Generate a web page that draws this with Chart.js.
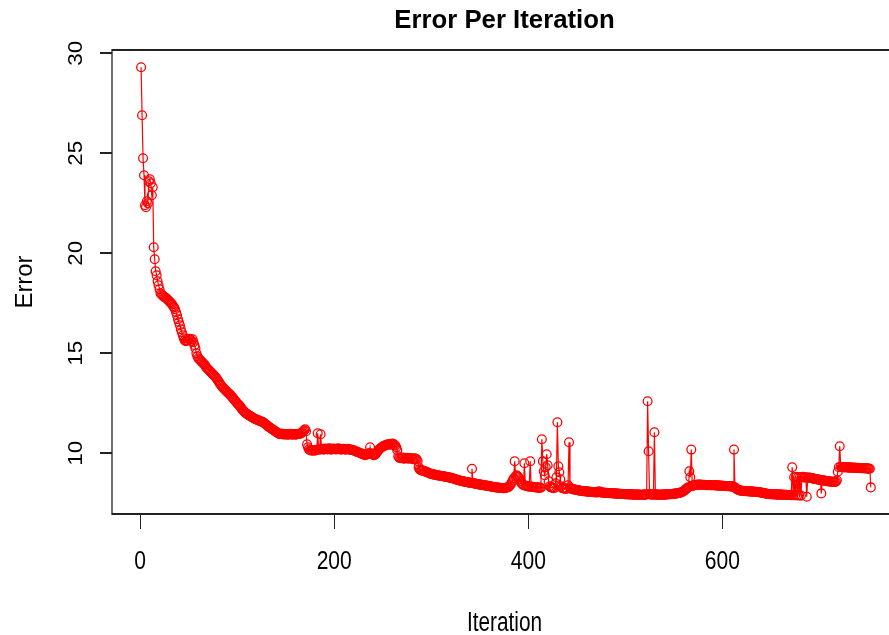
<!DOCTYPE html>
<html>
<head>
<meta charset="utf-8">
<script src="https://cdn.jsdelivr.net/npm/chart.js@4.4.1/dist/chart.umd.min.js"></script>
<style>
  html, body { margin: 0; padding: 0; background: #fff; overflow: hidden; }
  #wrap { width: 889px; height: 635px; overflow: hidden; }
  canvas { display: block; }
</style>
</head>
<body>
<div id="wrap"><canvas id="c" width="910" height="635"></canvas></div>
<script>
const titleText = "Error Per Iteration";
const xTitle = "Iteration";
const yTitle = "Error";
const xTicks = [0, 200, 400, 600];
const yTicks = [10, 15, 20, 25, 30];

// error value for each iteration (1, 2, 3, ...)
const errors = [
  /*1*/   29.3, 26.9, 24.75, 23.9, 22.4, 22.3, 22.6, 22.5, 23.6, 23.7,
  /*11*/  23.5, 22.9, 23.3, 20.3, 19.7, 19.1, 18.9, 18.6, 18.4, 18.2,
  /*21*/  18.0, 17.95, 17.9, 17.85, 17.8, 17.78, 17.75, 17.7, 17.65, 17.6,
  /*31*/  17.55, 17.5, 17.45, 17.35, 17.3, 17.2, 17.05, 16.9, 16.7, 16.55,
  /*41*/  16.4, 16.2, 16.05, 15.9, 15.75, 15.65, 15.6, 15.62, 15.65, 15.7,
  /*51*/  15.72, 15.68, 15.6, 15.7, 15.55, 15.4, 15.25, 15.0, 14.85, 14.75,
  /*61*/  14.7, 14.65, 14.6, 14.55, 14.5, 14.45, 14.4, 14.3, 14.25, 14.2,
  /*71*/  14.15, 14.1, 14.05, 14.0, 13.95, 13.9, 13.85, 13.8, 13.72, 13.65,
  /*81*/  13.58, 13.5, 13.42, 13.36, 13.3, 13.25, 13.2, 13.15, 13.1, 13.05,
  /*91*/  13.0, 12.97, 12.92, 12.85, 12.8, 12.74, 12.68, 12.62, 12.56, 12.5,
  /*101*/ 12.45, 12.4, 12.34, 12.28, 12.2, 12.14, 12.1, 12.05, 12.0, 11.97,
  /*111*/ 11.93, 11.9, 11.87, 11.84, 11.81, 11.78, 11.75, 11.72, 11.7, 11.68,
  /*121*/ 11.66, 11.64, 11.62, 11.6, 11.58, 11.56, 11.54, 11.5, 11.46, 11.42,
  /*131*/ 11.38, 11.34, 11.3, 11.27, 11.24, 11.2, 11.17, 11.14, 11.1, 11.07,
  /*141*/ 11.04, 11.0, 10.97, 10.95, 10.98, 10.96, 10.94, 10.97, 10.95, 10.93,
  /*151*/ 10.96, 10.94, 10.92, 10.95, 10.97, 10.94, 10.93, 10.95, 10.96, 10.92,
  /*161*/ 10.94, 10.95, 10.97, 10.96, 10.98, 11.0, 11.05, 11.1, 11.15, 11.2,
  /*171*/ 11.1, 10.45, 10.3, 10.2, 10.15, 10.15, 10.12, 10.14, 10.16, 10.13,
  /*181*/ 10.15, 10.17, 11.0, 10.2, 10.18, 10.95, 10.2, 10.22, 10.18, 10.2,
  /*191*/ 10.23, 10.21, 10.19, 10.22, 10.24, 10.2, 10.18, 10.21, 10.23, 10.22,
  /*201*/ 10.2, 10.19, 10.21, 10.24, 10.22, 10.2, 10.18, 10.2, 10.22, 10.21,
  /*211*/ 10.19, 10.17, 10.2, 10.22, 10.2, 10.18, 10.16, 10.18, 10.15, 10.14,
  /*221*/ 10.12, 10.1, 10.08, 10.06, 10.05, 10.02, 10.0, 9.98, 9.96, 9.94,
  /*231*/ 9.92, 9.9, 9.92, 9.95, 9.98, 10.0, 10.3, 10.0, 9.95, 9.92,
  /*241*/ 9.9, 9.93, 9.98, 10.05, 10.12, 10.18, 10.22, 10.26, 10.3, 10.33,
  /*251*/ 10.36, 10.38, 10.4, 10.42, 10.43, 10.45, 10.44, 10.42, 10.45, 10.48,
  /*261*/ 10.46, 10.42, 10.38, 10.3, 10.15, 9.85, 9.78, 9.75, 9.76, 9.78,
  /*271*/ 9.74, 9.72, 9.75, 9.77, 9.76, 9.73, 9.74, 9.76, 9.75, 9.72,
  /*281*/ 9.7, 9.73, 9.75, 9.72, 9.7, 9.6, 9.3, 9.2, 9.15, 9.14,
  /*291*/ 9.13, 9.12, 9.1, 9.08, 9.06, 9.04, 9.02, 9.0, 8.98, 8.96,
  /*301*/ 8.95, 8.94, 8.93, 8.92, 8.91, 8.9, 8.89, 8.88, 8.87, 8.86,
  /*311*/ 8.86, 8.85, 8.84, 8.83, 8.82, 8.81, 8.8, 8.79, 8.78, 8.77,
  /*321*/ 8.76, 8.75, 8.73, 8.71, 8.7, 8.68, 8.67, 8.65, 8.64, 8.62,
  /*331*/ 8.61, 8.6, 8.59, 8.58, 8.57, 8.56, 8.55, 8.54, 8.53, 8.52,
  /*341*/ 8.51, 9.22, 8.5, 8.49, 8.48, 8.47, 8.46, 8.45, 8.44, 8.43,
  /*351*/ 8.43, 8.42, 8.41, 8.4, 8.39, 8.38, 8.38, 8.37, 8.36, 8.35,
  /*361*/ 8.34, 8.33, 8.32, 8.31, 8.3, 8.3, 8.29, 8.28, 8.28, 8.27,
  /*371*/ 8.27, 8.26, 8.26, 8.25, 8.25, 8.26, 8.27, 8.28, 8.3, 8.33,
  /*381*/ 8.38, 8.45, 8.55, 8.65, 8.75, 9.6, 8.85, 8.9, 8.85, 8.8,
  /*391*/ 8.7, 8.6, 8.5, 8.45, 8.4, 9.5, 8.38, 8.36, 8.35, 8.34,
  /*401*/ 8.33, 9.6, 8.33, 8.32, 8.31, 8.3, 8.3, 8.29, 8.29, 8.28,
  /*411*/ 8.28, 8.27, 8.27, 10.7, 9.6, 9.1, 8.9, 9.3, 9.95, 9.4,
  /*421*/ 8.6, 8.35, 8.3, 8.28, 8.27, 8.27, 8.26, 8.5, 8.8, 11.55,
  /*431*/ 9.35, 9.05, 8.7, 8.35, 8.25, 8.24, 8.24, 8.23, 8.23, 8.22,
  /*441*/ 8.4, 10.55, 8.3, 8.22, 8.21, 8.2, 8.19, 8.18, 8.17, 8.16,
  /*451*/ 8.15, 8.14, 8.13, 8.12, 8.11, 8.11, 8.1, 8.1, 8.09, 8.09,
  /*461*/ 8.08, 8.08, 8.07, 8.07, 8.06, 8.06, 8.05, 8.05, 8.05, 8.04,
  /*471*/ 8.04, 8.06, 8.1, 8.06, 8.04, 8.03, 8.03, 8.02, 8.02, 8.02,
  /*481*/ 8.01, 8.01, 8.01, 8.0, 8.0, 8.0, 7.99, 7.99, 7.99, 7.98,
  /*491*/ 7.98, 7.98, 7.97, 7.97, 7.97, 7.96, 7.96, 7.96, 7.95, 7.95,
  /*501*/ 7.95, 7.95, 7.94, 7.94, 7.94, 7.94, 7.94, 7.93, 7.93, 7.93,
  /*511*/ 7.93, 7.93, 7.93, 7.93, 7.92, 7.92, 7.92, 7.92, 7.93, 7.93,
  /*521*/ 7.93, 7.94, 12.6, 10.1, 7.95, 7.94, 7.94, 7.93, 7.93, 11.05,
  /*531*/ 7.94, 7.93, 7.93, 7.93, 7.92, 7.92, 7.92, 7.93, 7.93, 7.93,
  /*541*/ 7.93, 7.94, 7.94, 7.94, 7.95, 7.95, 7.96, 7.96, 7.97, 7.97,
  /*551*/ 7.98, 7.98, 7.99, 8.0, 8.01, 8.02, 8.03, 8.05, 8.07, 8.1,
  /*561*/ 8.14, 8.18, 8.22, 8.27, 8.3, 9.1, 8.8, 10.18, 8.36, 8.38,
  /*571*/ 8.4, 8.41, 8.42, 8.42, 8.43, 8.42, 8.43, 8.42, 8.42, 8.41,
  /*581*/ 8.42, 8.41, 8.41, 8.4, 8.4, 8.41, 8.4, 8.4, 8.4, 8.4,
  /*591*/ 8.4, 8.4, 8.39, 8.39, 8.39, 8.38, 8.38, 8.38, 8.37, 8.37,
  /*601*/ 8.37, 8.36, 8.36, 8.36, 8.35, 8.35, 8.35, 8.34, 8.34, 8.34,
  /*611*/ 8.33, 10.18, 8.3, 8.25, 8.2, 8.17, 8.15, 8.14, 8.13, 8.12,
  /*621*/ 8.12, 8.11, 8.11, 8.1, 8.1, 8.1, 8.09, 8.09, 8.09, 8.08,
  /*631*/ 8.08, 8.08, 8.07, 8.07, 8.06, 8.06, 8.05, 8.05, 8.04, 8.03,
  /*641*/ 8.02, 8.01, 8.0, 7.99, 7.98, 7.97, 7.96, 7.96, 7.95, 7.95,
  /*651*/ 7.95, 7.95, 7.94, 7.94, 7.94, 7.94, 7.93, 7.93, 7.93, 7.93,
  /*661*/ 7.93, 7.92, 7.92, 7.92, 7.92, 7.92, 7.91, 7.91, 7.91, 7.91,
  /*671*/ 7.9, 9.3, 7.9, 8.8, 7.9, 8.82, 7.89, 8.8, 7.89, 8.81,
  /*681*/ 7.88, 8.8, 8.82, 8.8, 8.78, 8.8, 7.82, 8.78, 8.77, 8.78,
  /*691*/ 8.76, 8.75, 8.74, 8.73, 8.72, 8.71, 8.7, 8.69, 8.68, 8.67,
  /*701*/ 8.66, 7.99, 8.65, 8.64, 8.63, 8.62, 8.61, 8.6, 8.6, 8.59,
  /*711*/ 8.58, 8.58, 8.57, 8.57, 8.56, 8.56, 8.58, 8.65, 9.07, 9.3,
  /*721*/ 10.35, 9.32, 9.3, 9.31, 9.3, 9.29, 9.3, 9.3, 9.29, 9.28,
  /*731*/ 9.28, 9.29, 9.28, 9.27, 9.27, 9.28, 9.27, 9.26, 9.26, 9.27,
  /*741*/ 9.26, 9.25, 9.25, 9.26, 9.25, 9.24, 9.25, 9.24, 9.24, 9.23,
  /*751*/ 9.23, 9.22, 8.29
];
const iterations = errors.map((_, i) => i + 1);

const FONT = '"Liberation Sans", Arial, Helvetica, sans-serif';

function drawText(ctx, text, x, y, font, kx, rot, align) {
  ctx.save();
  ctx.translate(x, y);
  if (rot) ctx.rotate(rot);
  ctx.scale(kx, 1);
  ctx.font = font;
  ctx.fillStyle = '#000';
  ctx.textAlign = align || 'center';
  ctx.textBaseline = 'alphabetic';
  ctx.fillText(text, 0, 0);
  ctx.restore();
}

const rPlotDecor = {
  id: 'rPlotDecor',
  afterDraw(chart) {
    const ctx = chart.ctx;
    const a = chart.chartArea;
    const xs = chart.scales.x, ys = chart.scales.y;
    ctx.save();
    ctx.strokeStyle = '#222';
    ctx.lineWidth = 2;
    ctx.beginPath();
    ctx.moveTo(a.left, a.top); ctx.lineTo(a.right, a.top);
    ctx.moveTo(a.left, a.bottom); ctx.lineTo(a.right, a.bottom);
    ctx.stroke();
    ctx.lineWidth = 1.3;
    ctx.beginPath();
    ctx.moveTo(a.left, a.top - 1); ctx.lineTo(a.left, a.bottom + 1);
    ctx.moveTo(a.right, a.top - 1); ctx.lineTo(a.right, a.bottom + 1);
    ctx.stroke();
    ctx.restore();
    const cx = (a.left + a.right) / 2;
    const cy = (a.top + a.bottom) / 2;
    drawText(ctx, titleText, cx, 28, 'bold 26px ' + FONT, 0.99, 0);
    xs.ticks.forEach(t => {
      drawText(ctx, String(t.value), xs.getPixelForValue(t.value), 569, '26px ' + FONT, 0.81, 0);
    });
    ys.ticks.forEach(t => {
      drawText(ctx, String(t.value), 81.5, ys.getPixelForValue(t.value), '21px ' + FONT, 1.07, -Math.PI / 2);
    });
    drawText(ctx, xTitle, cx, 631, '27px ' + FONT, 0.77, 0);
    drawText(ctx, yTitle, 31.5, cy, '23px ' + FONT, 1.04, -Math.PI / 2);
  }
};

new Chart(document.getElementById('c'), {
  type: 'line',
  data: {
    datasets: [{
      data: errors.map((e, i) => ({ x: iterations[i], y: e })),
      borderColor: '#ff0000',
      borderWidth: 1.2,
      backgroundColor: 'rgba(0,0,0,0)',
      pointBackgroundColor: 'rgba(0,0,0,0)',
      pointBorderColor: '#ff0000',
      pointBorderWidth: 1.3,
      pointRadius: 4.4,
      pointHoverRadius: 4.4,
      tension: 0,
      fill: false
    }]
  },
  options: {
    responsive: false,
    animation: false,
    devicePixelRatio: 1,
    events: [],
    layout: { padding: { top: 50, right: 13, left: 0, bottom: 0 } },
    plugins: { legend: { display: false }, title: { display: false }, tooltip: { enabled: false } },
    scales: {
      x: {
        type: 'linear',
        min: -29, max: 780,
        afterBuildTicks: s => { s.ticks = xTicks.map(v => ({ value: v })); },
        afterFit: s => { s.height = 121; },
        ticks: { display: false },
        border: { display: false },
        grid: { display: true, drawOnChartArea: false, drawTicks: true, tickLength: 15, color: '#222', lineWidth: 1 }
      },
      y: {
        type: 'linear',
        min: 6.96, max: 30.16,
        afterBuildTicks: s => { s.ticks = yTicks.map(v => ({ value: v })); },
        afterFit: s => { s.width = 112; },
        ticks: { display: false },
        border: { display: false },
        grid: { display: true, drawOnChartArea: false, drawTicks: true, tickLength: 12, color: '#222', lineWidth: 2 }
      }
    }
  },
  plugins: [rPlotDecor]
});
</script>
</body>
</html>
